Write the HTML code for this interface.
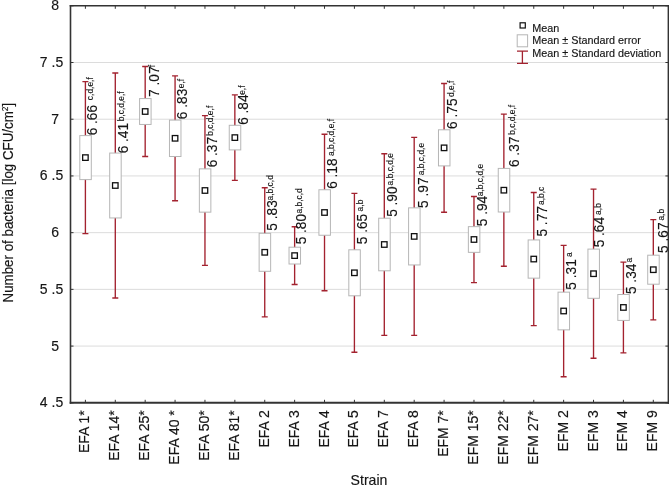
<!DOCTYPE html>
<html><head><meta charset="utf-8"><title>Number of bacteria by strain</title>
<style>
html,body{margin:0;padding:0;background:#fff}
body{width:669px;height:485px;overflow:hidden}
svg{display:block;font-family:"Liberation Sans",Arial,sans-serif;fill:#151515}
text{stroke:#151515;stroke-width:0.15px}
.yl{font-size:14px}
.xl{font-size:14px}
.dl{font-size:14.2px}
.sup{font-size:9.7px}
.lg{font-size:10.8px}
.ttl{font-size:13.5px}
</style></head><body>
<svg width="669" height="485" viewBox="0 0 669 485">
<rect x="0" y="0" width="669" height="485" fill="#fff"/>

<g stroke="#dcdcdc" stroke-width="1">
<line x1="70.5" y1="62.51" x2="668.4" y2="62.51"/>
<line x1="70.5" y1="119.23" x2="668.4" y2="119.23"/>
<line x1="70.5" y1="175.94" x2="668.4" y2="175.94"/>
<line x1="70.5" y1="232.66" x2="668.4" y2="232.66"/>
<line x1="70.5" y1="289.37" x2="668.4" y2="289.37"/>
<line x1="70.5" y1="346.09" x2="668.4" y2="346.09"/>
</g>
<g stroke="#a3222f" stroke-width="1.35" fill="none">
<path d="M85.40 81.60V233.60M82.40 81.60h6M82.40 233.60h6"/>
<path d="M115.29 73.00V298.00M112.29 73.00h6M112.29 298.00h6"/>
<path d="M145.18 66.50V156.50M142.18 66.50h6M142.18 156.50h6"/>
<path d="M175.07 75.85V200.75M172.07 75.85h6M172.07 200.75h6"/>
<path d="M204.96 115.60V265.40M201.96 115.60h6M201.96 265.40h6"/>
<path d="M234.85 94.90V180.30M231.85 94.90h6M231.85 180.30h6"/>
<path d="M264.74 187.75V316.85M261.74 187.75h6M261.74 316.85h6"/>
<path d="M294.63 226.70V284.50M291.63 226.70h6M291.63 284.50h6"/>
<path d="M324.52 134.25V290.75M321.52 134.25h6M321.52 290.75h6"/>
<path d="M354.41 193.40V352.20M351.41 193.40h6M351.41 352.20h6"/>
<path d="M384.30 153.70V335.30M381.30 153.70h6M381.30 335.30h6"/>
<path d="M414.19 137.40V335.40M411.19 137.40h6M411.19 335.40h6"/>
<path d="M444.08 83.50V212.20M441.08 83.50h6M441.08 212.20h6"/>
<path d="M473.97 196.45V282.55M470.97 196.45h6M470.97 282.55h6"/>
<path d="M503.86 114.15V266.25M500.86 114.15h6M500.86 266.25h6"/>
<path d="M533.75 192.45V325.65M530.75 192.45h6M530.75 325.65h6"/>
<path d="M563.64 245.30V376.70M560.64 245.30h6M560.64 376.70h6"/>
<path d="M593.53 189.15V358.25M590.53 189.15h6M590.53 358.25h6"/>
<path d="M623.42 262.10V352.80M620.42 262.10h6M620.42 352.80h6"/>
<path d="M653.31 219.55V319.85M650.31 219.55h6M650.31 319.85h6"/>
</g>
<g stroke="#b6b6b6" stroke-width="1" fill="#fff">
<rect x="79.80" y="135.60" width="11.5" height="44.00"/>
<rect x="109.69" y="153.05" width="11.5" height="64.90"/>
<rect x="139.58" y="98.55" width="11.5" height="25.90"/>
<rect x="169.47" y="120.10" width="11.5" height="36.40"/>
<rect x="199.36" y="168.85" width="11.5" height="43.30"/>
<rect x="229.25" y="125.30" width="11.5" height="24.60"/>
<rect x="259.14" y="233.30" width="11.5" height="38.00"/>
<rect x="289.03" y="247.20" width="11.5" height="16.80"/>
<rect x="318.92" y="189.75" width="11.5" height="45.50"/>
<rect x="348.81" y="249.80" width="11.5" height="46.00"/>
<rect x="378.70" y="218.20" width="11.5" height="52.60"/>
<rect x="408.59" y="207.85" width="11.5" height="57.10"/>
<rect x="438.48" y="129.80" width="11.5" height="36.10"/>
<rect x="468.37" y="226.65" width="11.5" height="25.70"/>
<rect x="498.26" y="168.40" width="11.5" height="43.60"/>
<rect x="528.15" y="239.95" width="11.5" height="38.20"/>
<rect x="558.04" y="292.15" width="11.5" height="37.70"/>
<rect x="587.93" y="249.10" width="11.5" height="49.20"/>
<rect x="617.82" y="294.50" width="11.5" height="25.90"/>
<rect x="647.71" y="255.20" width="11.5" height="29.00"/>
</g>
<g stroke="#111" stroke-width="1.3" fill="#fff">
<rect x="82.65" y="154.85" width="5.5" height="5.5"/>
<rect x="112.54" y="182.75" width="5.5" height="5.5"/>
<rect x="142.43" y="108.75" width="5.5" height="5.5"/>
<rect x="172.32" y="135.55" width="5.5" height="5.5"/>
<rect x="202.21" y="187.75" width="5.5" height="5.5"/>
<rect x="232.10" y="134.85" width="5.5" height="5.5"/>
<rect x="261.99" y="249.55" width="5.5" height="5.5"/>
<rect x="291.88" y="252.85" width="5.5" height="5.5"/>
<rect x="321.77" y="209.75" width="5.5" height="5.5"/>
<rect x="351.66" y="270.05" width="5.5" height="5.5"/>
<rect x="381.55" y="241.75" width="5.5" height="5.5"/>
<rect x="411.44" y="233.65" width="5.5" height="5.5"/>
<rect x="441.33" y="145.10" width="5.5" height="5.5"/>
<rect x="471.22" y="236.75" width="5.5" height="5.5"/>
<rect x="501.11" y="187.45" width="5.5" height="5.5"/>
<rect x="531.00" y="256.30" width="5.5" height="5.5"/>
<rect x="560.89" y="308.25" width="5.5" height="5.5"/>
<rect x="590.78" y="270.95" width="5.5" height="5.5"/>
<rect x="620.67" y="304.70" width="5.5" height="5.5"/>
<rect x="650.56" y="266.95" width="5.5" height="5.5"/>
</g>
<text class="dl" transform="translate(97.00 135.35) rotate(-90) scale(0.965 1)">6 .66</text>
<text class="sup" transform="translate(93.40 100.15) rotate(-90) scale(0.87 1)">c,d,e,f</text>
<text class="dl" transform="translate(127.59 153.35) rotate(-90) scale(0.965 1)">6 .41</text>
<text class="sup" transform="translate(123.99 121.35) rotate(-90) scale(0.87 1)">b,c,d,e,f</text>
<text class="dl" transform="translate(158.98 96.95) rotate(-90) scale(0.965 1)">7 .07</text>
<text class="sup" transform="translate(155.38 67.20) rotate(-90) scale(0.87 1)">f</text>
<text class="dl" transform="translate(187.27 119.15) rotate(-90) scale(0.965 1)">6 .83</text>
<text class="sup" transform="translate(183.67 88.30) rotate(-90) scale(0.87 1)">e,f</text>
<text class="dl" transform="translate(216.66 167.35) rotate(-90) scale(0.965 1)">6 .37</text>
<text class="sup" transform="translate(213.06 135.75) rotate(-90) scale(0.87 1)">b,c,d,e,f</text>
<text class="dl" transform="translate(248.35 124.85) rotate(-90) scale(0.965 1)">6 .84</text>
<text class="sup" transform="translate(244.75 94.85) rotate(-90) scale(0.87 1)">e,f</text>
<text class="dl" transform="translate(276.94 230.65) rotate(-90) scale(0.965 1)">5 .83</text>
<text class="sup" transform="translate(273.34 200.45) rotate(-90) scale(0.87 1)">a,b,c,d</text>
<text class="dl" transform="translate(305.83 244.35) rotate(-90) scale(0.965 1)">5 .80</text>
<text class="sup" transform="translate(302.23 213.50) rotate(-90) scale(0.87 1)">a,b,c,d</text>
<text class="dl" transform="translate(337.12 188.85) rotate(-90) scale(0.965 1)">6 .18</text>
<text class="sup" transform="translate(333.52 156.00) rotate(-90) scale(0.87 1)">a,b,c,d,e,f</text>
<text class="dl" transform="translate(366.51 244.25) rotate(-90) scale(0.965 1)">5 .65</text>
<text class="sup" transform="translate(362.91 211.40) rotate(-90) scale(0.87 1)">a,b</text>
<text class="dl" transform="translate(396.60 216.85) rotate(-90) scale(0.965 1)">5 .90</text>
<text class="sup" transform="translate(393.00 185.40) rotate(-90) scale(0.87 1)">a,b,c,d,e</text>
<text class="dl" transform="translate(427.69 207.95) rotate(-90) scale(0.965 1)">5 .97</text>
<text class="sup" transform="translate(424.09 175.20) rotate(-90) scale(0.87 1)">a,b,c,d,e</text>
<text class="dl" transform="translate(457.48 128.95) rotate(-90) scale(0.965 1)">6 .75</text>
<text class="sup" transform="translate(453.88 96.95) rotate(-90) scale(0.87 1)">d,e,f</text>
<text class="dl" transform="translate(486.87 226.25) rotate(-90) scale(0.965 1)">5 .94</text>
<text class="sup" transform="translate(483.27 196.20) rotate(-90) scale(0.87 1)">a,b,c,d,e</text>
<text class="dl" transform="translate(518.86 167.05) rotate(-90) scale(0.965 1)">6 .37</text>
<text class="sup" transform="translate(515.26 134.85) rotate(-90) scale(0.87 1)">b,c,d,e,f</text>
<text class="dl" transform="translate(547.30 236.55) rotate(-90) scale(0.965 1)">5 .77</text>
<text class="sup" transform="translate(543.70 205.00) rotate(-90) scale(0.87 1)">a,b,c</text>
<text class="dl" transform="translate(576.04 289.65) rotate(-90) scale(0.965 1)">5 .31</text>
<text class="sup" transform="translate(572.44 256.90) rotate(-90) scale(0.87 1)">a</text>
<text class="dl" transform="translate(604.23 247.35) rotate(-90) scale(0.965 1)">5 .64</text>
<text class="sup" transform="translate(600.63 214.90) rotate(-90) scale(0.87 1)">a,b</text>
<text class="dl" transform="translate(635.52 294.05) rotate(-90) scale(0.965 1)">5 .34</text>
<text class="sup" transform="translate(631.92 262.40) rotate(-90) scale(0.87 1)">a</text>
<text class="dl" transform="translate(667.81 252.95) rotate(-90) scale(0.965 1)">5 .67</text>
<text class="sup" transform="translate(664.21 220.60) rotate(-90) scale(0.87 1)">a,b</text>
<g stroke="#333" fill="none"><path d="M70.5 5.1V403.8" stroke-width="1.6"/><path d="M69.7 5.8H669.1999999999999" stroke-width="1.4"/><path d="M668.4 5.1V403.8" stroke-width="1.6"/><path d="M69.7 402.8H669.1999999999999" stroke-width="2"/></g>
<g stroke="#333" stroke-width="1">
<line x1="70.5" y1="5.80" x2="73.5" y2="5.80"/>
<line x1="668.4" y1="5.80" x2="665.4" y2="5.80"/>
<line x1="70.5" y1="62.51" x2="73.5" y2="62.51"/>
<line x1="668.4" y1="62.51" x2="665.4" y2="62.51"/>
<line x1="70.5" y1="119.23" x2="73.5" y2="119.23"/>
<line x1="668.4" y1="119.23" x2="665.4" y2="119.23"/>
<line x1="70.5" y1="175.94" x2="73.5" y2="175.94"/>
<line x1="668.4" y1="175.94" x2="665.4" y2="175.94"/>
<line x1="70.5" y1="232.66" x2="73.5" y2="232.66"/>
<line x1="668.4" y1="232.66" x2="665.4" y2="232.66"/>
<line x1="70.5" y1="289.37" x2="73.5" y2="289.37"/>
<line x1="668.4" y1="289.37" x2="665.4" y2="289.37"/>
<line x1="70.5" y1="346.09" x2="73.5" y2="346.09"/>
<line x1="668.4" y1="346.09" x2="665.4" y2="346.09"/>
<line x1="70.5" y1="402.80" x2="73.5" y2="402.80"/>
<line x1="668.4" y1="402.80" x2="665.4" y2="402.80"/>
<line x1="85.40" y1="5.8" x2="85.40" y2="8.8"/>
<line x1="85.40" y1="402.8" x2="85.40" y2="399.8"/>
<line x1="115.29" y1="5.8" x2="115.29" y2="8.8"/>
<line x1="115.29" y1="402.8" x2="115.29" y2="399.8"/>
<line x1="145.18" y1="5.8" x2="145.18" y2="8.8"/>
<line x1="145.18" y1="402.8" x2="145.18" y2="399.8"/>
<line x1="175.07" y1="5.8" x2="175.07" y2="8.8"/>
<line x1="175.07" y1="402.8" x2="175.07" y2="399.8"/>
<line x1="204.96" y1="5.8" x2="204.96" y2="8.8"/>
<line x1="204.96" y1="402.8" x2="204.96" y2="399.8"/>
<line x1="234.85" y1="5.8" x2="234.85" y2="8.8"/>
<line x1="234.85" y1="402.8" x2="234.85" y2="399.8"/>
<line x1="264.74" y1="5.8" x2="264.74" y2="8.8"/>
<line x1="264.74" y1="402.8" x2="264.74" y2="399.8"/>
<line x1="294.63" y1="5.8" x2="294.63" y2="8.8"/>
<line x1="294.63" y1="402.8" x2="294.63" y2="399.8"/>
<line x1="324.52" y1="5.8" x2="324.52" y2="8.8"/>
<line x1="324.52" y1="402.8" x2="324.52" y2="399.8"/>
<line x1="354.41" y1="5.8" x2="354.41" y2="8.8"/>
<line x1="354.41" y1="402.8" x2="354.41" y2="399.8"/>
<line x1="384.30" y1="5.8" x2="384.30" y2="8.8"/>
<line x1="384.30" y1="402.8" x2="384.30" y2="399.8"/>
<line x1="414.19" y1="5.8" x2="414.19" y2="8.8"/>
<line x1="414.19" y1="402.8" x2="414.19" y2="399.8"/>
<line x1="444.08" y1="5.8" x2="444.08" y2="8.8"/>
<line x1="444.08" y1="402.8" x2="444.08" y2="399.8"/>
<line x1="473.97" y1="5.8" x2="473.97" y2="8.8"/>
<line x1="473.97" y1="402.8" x2="473.97" y2="399.8"/>
<line x1="503.86" y1="5.8" x2="503.86" y2="8.8"/>
<line x1="503.86" y1="402.8" x2="503.86" y2="399.8"/>
<line x1="533.75" y1="5.8" x2="533.75" y2="8.8"/>
<line x1="533.75" y1="402.8" x2="533.75" y2="399.8"/>
<line x1="563.64" y1="5.8" x2="563.64" y2="8.8"/>
<line x1="563.64" y1="402.8" x2="563.64" y2="399.8"/>
<line x1="593.53" y1="5.8" x2="593.53" y2="8.8"/>
<line x1="593.53" y1="402.8" x2="593.53" y2="399.8"/>
<line x1="623.42" y1="5.8" x2="623.42" y2="8.8"/>
<line x1="623.42" y1="402.8" x2="623.42" y2="399.8"/>
<line x1="653.31" y1="5.8" x2="653.31" y2="8.8"/>
<line x1="653.31" y1="402.8" x2="653.31" y2="399.8"/>
</g>
<text class="yl" x="51.2" y="10.00">8</text>
<text class="yl" x="63.2" y="67.01" text-anchor="end">7 .5</text>
<text class="yl" x="51.2" y="123.73">7</text>
<text class="yl" x="63.2" y="180.44" text-anchor="end">6 .5</text>
<text class="yl" x="51.2" y="237.16">6</text>
<text class="yl" x="63.2" y="293.87" text-anchor="end">5 .5</text>
<text class="yl" x="51.2" y="350.59">5</text>
<text class="yl" x="63.2" y="407.30" text-anchor="end">4 .5</text>
<text class="xl" transform="translate(89.40 410.2) rotate(-90) scale(1 1.03)" text-anchor="end">EFA 1*</text>
<text class="xl" transform="translate(119.29 410.2) rotate(-90) scale(1 1.03)" text-anchor="end">EFA 14*</text>
<text class="xl" transform="translate(149.18 410.2) rotate(-90) scale(1 1.03)" text-anchor="end">EFA 25*</text>
<text class="xl" transform="translate(179.07 410.2) rotate(-90) scale(1 1.03)" text-anchor="end">EFA 40 *</text>
<text class="xl" transform="translate(208.96 410.2) rotate(-90) scale(1 1.03)" text-anchor="end">EFA 50*</text>
<text class="xl" transform="translate(238.85 410.2) rotate(-90) scale(1 1.03)" text-anchor="end">EFA 81*</text>
<text class="xl" transform="translate(268.74 410.2) rotate(-90) scale(1 1.03)" text-anchor="end">EFA 2</text>
<text class="xl" transform="translate(298.63 410.2) rotate(-90) scale(1 1.03)" text-anchor="end">EFA 3</text>
<text class="xl" transform="translate(328.52 410.2) rotate(-90) scale(1 1.03)" text-anchor="end">EFA 4</text>
<text class="xl" transform="translate(358.41 410.2) rotate(-90) scale(1 1.03)" text-anchor="end">EFA 5</text>
<text class="xl" transform="translate(388.30 410.2) rotate(-90) scale(1 1.03)" text-anchor="end">EFA 7</text>
<text class="xl" transform="translate(418.19 410.2) rotate(-90) scale(1 1.03)" text-anchor="end">EFA 8</text>
<text class="xl" transform="translate(448.08 410.2) rotate(-90) scale(1 1.03)" text-anchor="end">EFM 7*</text>
<text class="xl" transform="translate(477.97 410.2) rotate(-90) scale(1 1.03)" text-anchor="end">EFM 15*</text>
<text class="xl" transform="translate(507.86 410.2) rotate(-90) scale(1 1.03)" text-anchor="end">EFM 22*</text>
<text class="xl" transform="translate(537.75 410.2) rotate(-90) scale(1 1.03)" text-anchor="end">EFM 27*</text>
<text class="xl" transform="translate(567.64 410.2) rotate(-90) scale(1 1.03)" text-anchor="end">EFM 2</text>
<text class="xl" transform="translate(597.53 410.2) rotate(-90) scale(1 1.03)" text-anchor="end">EFM 3</text>
<text class="xl" transform="translate(627.42 410.2) rotate(-90) scale(1 1.03)" text-anchor="end">EFM 4</text>
<text class="xl" transform="translate(657.31 410.2) rotate(-90) scale(1 1.03)" text-anchor="end">EFM 9</text>
<text class="ttl" x="350.6" y="484.8" style="font-size:14.1px">Strain</text>
<text class="ttl" transform="translate(12.8 302.5) rotate(-90) scale(0.99 1.04)">Number of bacteria [log CFU/cm<tspan font-size="8.5px" dy="-5">2</tspan><tspan dy="5">]</tspan></text>
<rect x="520.1" y="22.8" width="5.2" height="5.2" fill="#fff" stroke="#111" stroke-width="1.2"/>
<rect x="517.2" y="34.8" width="10.4" height="12" fill="#fff" stroke="#b6b6b6" stroke-width="1"/>
<path d="M522.4 51.1V63.4M517 51.1h11M517 63.4h11" stroke="#a3222f" stroke-width="1.3" fill="none"/>
<text class="lg" x="532.3" y="32.2">Mean</text>
<text class="lg" x="532.3" y="44.4">Mean ± Standard error</text>
<text class="lg" x="532.3" y="57.0">Mean ± Standard deviation</text>
</svg></body></html>
